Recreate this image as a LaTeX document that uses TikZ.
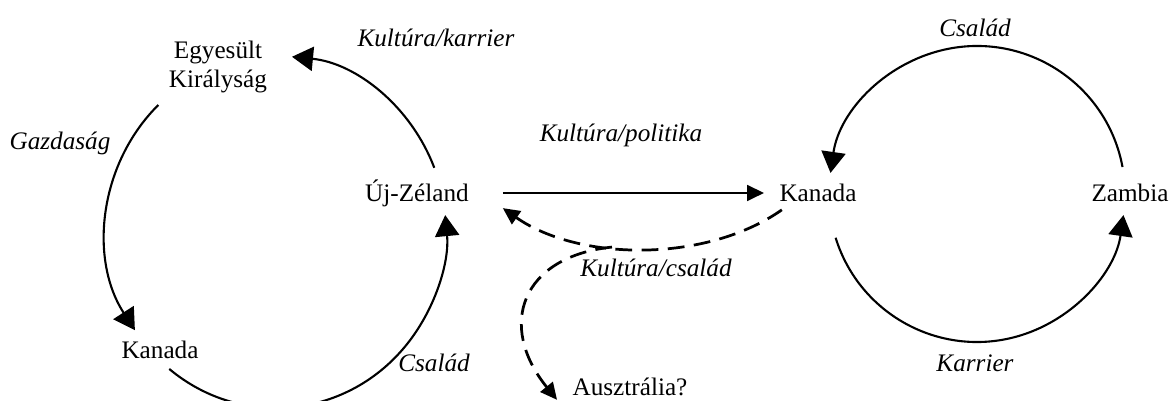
\documentclass[tikz,border=0pt]{standalone}
\usepackage{fontspec}
\setmainfont{Liberation Serif}
\usetikzlibrary{arrows.meta}

\begin{document}
\begin{tikzpicture}[font=\fontsize{12}{13.8}\selectfont,x=0.476pt,y=0.476pt,place/.style={inner xsep=7.2pt,inner ysep=3.6pt,align=center},lbl/.style={inner sep=1pt,font=\fontsize{12}{13.8}\selectfont\itshape},flow/.style={-{Triangle[length=10pt,width=11.5pt]},line width=1pt},link/.style={-{Triangle[length=8pt,width=7.5pt]},line width=1.2pt},back/.style={link,line width=1.3pt,dash pattern=on 8pt off 4.5pt}]
\useasboundingbox (0,0) rectangle (1172,401);
\node[place] (uk) at (218,334) {Egyesült\\Királyság};
\node[place,inner xsep=16pt] (nz) at (417,208) {Új-Zéland};
\node[place] (ca1) at (160,51) {Kanada};
\node[place] (ca2) at (818,208) {Kanada};
\node[place] (zm) at (1130,208) {Zambia};
\node[place] (au) at (630,14) {Ausztrália?};
\node[lbl] (kk) at (436,363) {Kultúra/karrier};
\node[lbl] (gz) at (60,258) {Gazdaság};
\node[lbl] (cs1) at (434,38) {Család};
\node[lbl] (kp) at (621,266) {Kultúra/politika};
\node[lbl] (kcs) at (656,133) {Kultúra/család};
\node[lbl] (cs2) at (975,373) {Család};
\node[lbl] (kr) at (975,38) {Karrier};
\coordinate (lc) at (276,169);
\coordinate (rc) at (977,207);
\coordinate (nzup) at ([shift={(21.4:170 and 176)}]lc);
\coordinate (ukdn) at ([shift={(133.8:170 and 176)}]lc);
\coordinate (cadn) at ([shift={(231.1:170 and 176)}]lc);
\coordinate (zmup) at ([shift={(10.5:148)}]rc);
\coordinate (cadn2) at ([shift={(197.2:148)}]rc);
\draw[flow] (nzup) arc[start angle=21.4,end angle=84.6,x radius=170,y radius=176];
\draw[flow] (ukdn) arc[start angle=133.8,end angle=213.9,x radius=170,y radius=176];
\draw[flow] (cadn) arc[start angle=231.1,end angle=365.5,x radius=170,y radius=176];
\draw[flow] (zmup) arc[start angle=10.5,end angle=171.8,radius=148];
\draw[flow] (cadn2) arc[start angle=197.2,end angle=351.8,radius=148];
\draw[link] (nz) -- (ca2);
\draw[back] (ca2.205) to[out=215,in=-35,looseness=0.85] coordinate[pos=0.6] (split) (nz.-10);
\draw[back] (split) .. controls +(186:91) and +(129:96) .. (au.190);
\end{tikzpicture}
\end{document}
